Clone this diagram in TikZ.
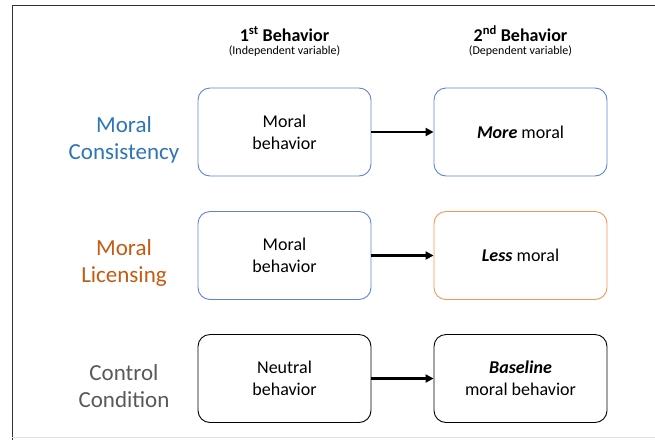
\documentclass[tikz,border=0pt]{standalone}
\usepackage{fontspec}
\setmainfont{Carlito}
\usetikzlibrary{arrows.meta, positioning}
\definecolor{moral-blue}{RGB}{46,117,182}
\definecolor{box-blue}{RGB}{95,130,210}
\definecolor{moral-orange}{RGB}{197,90,17}
\definecolor{box-orange}{RGB}{242,150,90}
\definecolor{label-gray}{RGB}{89,89,89}
\definecolor{frame-gray}{RGB}{50,50,50}

\begin{document}
\begin{tikzpicture}[
  x=1pt, y=-1pt,
  every node/.style={font=\fontsize{18}{22}\selectfont, align=center},
  behavior/.style={draw, rounded corners=12pt, minimum width=173pt, minimum height=88pt, line width=0.9pt, inner sep=0pt},
  rowlabel/.style={font=\fontsize{23}{27}\selectfont},
  heading/.style={font=\bfseries\fontsize{18}{22}\selectfont, anchor=base},
  subheading/.style={font=\fontsize{12}{14}\selectfont, anchor=base},
  effect/.style={-{Triangle[length=8pt, width=8pt]}, line width=2.2pt},
]
  \useasboundingbox (0,0) rectangle (655,440);
  % frame
  \draw[frame-gray, line width=1pt] (655,5) -- (12,5) -- (12,440);
  \draw[black!12, line width=0.8pt] (12,437.5) -- (655,437.5);

  % column headings
  \node[heading] (first-head) at (284.5,41) {1\textsuperscript{st} Behavior};
  \node[subheading] (first-sub) at (284.5,54.5) {(Independent variable)};
  \node[heading] (second-head) at (520.5,41) {2\textsuperscript{nd} Behavior};
  \node[subheading] (second-sub) at (520.5,54.5) {(Dependent variable)};

  % moral consistency
  \node[rowlabel, text=moral-blue] (cons-label) at (124,139.5) {Moral\\Consistency};
  \node[behavior, box-blue, text=black] (cons-first) at (284.5,132) {Moral\\behavior};
  \node[behavior, box-blue, text=black] (cons-second) at (520.5,132) {\textbf{\textit{More}} moral};
  \draw[effect] (cons-first) -- (cons-second);

  % moral licensing
  \node[rowlabel, text=moral-orange] (lic-label) at (124,262.5) {Moral\\Licensing};
  \node[behavior, box-blue, text=black] (lic-first) at (284.5,255.5) {Moral\\behavior};
  \node[behavior, box-orange, text=black] (lic-second) at (520.5,255.5) {\textbf{\textit{Less}} moral};
  \draw[effect] (lic-first) -- (lic-second);

  % control condition
  \node[rowlabel, text=label-gray] (ctrl-label) at (124,386) {Control\\Condition};
  \node[behavior] (ctrl-first) at (284.5,378.5) {Neutral\\behavior};
  \node[behavior] (ctrl-second) at (520.5,378.5) {\textbf{\textit{Baseline}}\\moral behavior};
  \draw[effect] (ctrl-first) -- (ctrl-second);
\end{tikzpicture}
\end{document}
